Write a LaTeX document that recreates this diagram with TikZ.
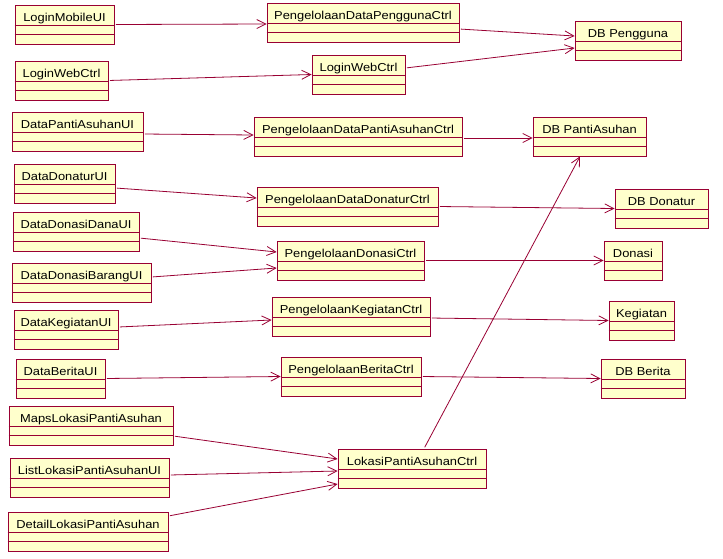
\documentclass[tikz,border=0pt]{standalone}
\usepackage{fontspec}
\newfontfamily\umlfont{Liberation Sans}[FakeStretch=1.12]
\usetikzlibrary{arrows.meta}
\definecolor{umlline}{RGB}{153,0,51}
\definecolor{umlfill}{RGB}{255,255,204}
\tikzset{
  umlbox/.style={draw=umlline, fill=umlfill, line width=0.8pt, rectangle, inner sep=0pt,
    text height=16.5pt, text depth=22.5pt, minimum height=39pt,
    font=\umlfont\fontsize{11.5}{13}\selectfont, text=black},
  dep/.style={draw=umlline, line width=0.8pt, shorten <=1.5pt,
    -{Straight Barb[length=9pt,width=9pt]}}
}
\begin{document}
\begin{tikzpicture}[x=1pt,y=-1pt]
\useasboundingbox[fill=white] (0,0) rectangle (723,558);
% left column
\node[umlbox, minimum width=99pt]  (lmui)   at (64.5,24.5)  {LoginMobileUI};
\node[umlbox, minimum width=93pt]  (lwc1)   at (61.5,80.5)  {LoginWebCtrl};
\node[umlbox, minimum width=131pt] (dpaui)  at (77.5,131.5) {DataPantiAsuhanUI};
\node[umlbox, minimum width=101pt] (ddui)   at (64.5,183.5) {DataDonaturUI};
\node[umlbox, minimum width=126pt] (ddsui)  at (76,231.5)   {DataDonasiDanaUI};
\node[umlbox, minimum width=139pt] (dbui)   at (81.5,282.5) {DataDonasiBarangUI};
\node[umlbox, minimum width=104pt] (dkui)   at (66,329.5)   {DataKegiatanUI};
\node[umlbox, minimum width=89pt]  (dbrui)  at (60.5,378.5) {DataBeritaUI};
\node[umlbox, minimum width=164pt] (maps)   at (91,425.5)   {MapsLokasiPantiAsuhan};
\node[umlbox, minimum width=159pt] (list)   at (89.5,477.5) {ListLokasiPantiAsuhanUI};
\node[umlbox, minimum width=160pt] (detail) at (88,531.5)   {DetailLokasiPantiAsuhan};
% middle column
\node[umlbox, minimum width=192pt] (pdpc)   at (363,22.5)   {PengelolaanDataPenggunaCtrl};
\node[umlbox, minimum width=93pt]  (lwc2)   at (358.5,74.5) {LoginWebCtrl};
\node[umlbox, minimum width=208pt] (pdpac)  at (358,136.5)  {PengelolaanDataPantiAsuhanCtrl};
\node[umlbox, minimum width=181pt] (pddc)   at (347.5,206.5){PengelolaanDataDonaturCtrl};
\node[umlbox, minimum width=147pt] (pdc)    at (350.5,260.5){PengelolaanDonasiCtrl};
\node[umlbox, minimum width=158pt] (pkc)    at (351,316.5)  {PengelolaanKegiatanCtrl};
\node[umlbox, minimum width=140pt] (pbc)    at (351,376.5)  {PengelolaanBeritaCtrl};
\node[umlbox, minimum width=148pt] (lpac)   at (412,468.5)  {LokasiPantiAsuhanCtrl};
% right column
\node[umlbox, minimum width=106pt] (dbp)    at (628,40.5)   {DB Pengguna};
\node[umlbox, minimum width=113pt] (dbpa)   at (589.5,136.5){DB PantiAsuhan};
\node[umlbox, minimum width=93pt]  (dbd)    at (661.5,208.5){DB Donatur};
\node[umlbox, minimum width=58pt]  (don)    at (633,260.5)  {Donasi};
\node[umlbox, minimum width=65pt]  (keg)    at (641.5,320.5){Kegiatan};
\node[umlbox, minimum width=84pt]  (dbb)    at (643,378.5)  {DB Berita};
% compartment lines
\foreach \n in {lmui,lwc1,dpaui,ddui,ddsui,dbui,dkui,dbrui,maps,list,detail,
               pdpc,lwc2,pdpac,pddc,pdc,pkc,pbc,lpac,dbp,dbpa,dbd,don,keg,dbb}{
  \draw[umlline, line width=0.8pt] ([yshift=-20.5pt]\n.north west) -- ([yshift=-20.5pt]\n.north east);
  \draw[umlline, line width=0.8pt] ([yshift=-30pt]\n.north west) -- ([yshift=-30pt]\n.north east);
}
% connectors
\draw[dep] (lmui.east) -- ([yshift=-1.5pt]pdpc.west);
\draw[dep] (lwc1.east) -- (lwc2.west);
\draw[dep] ([yshift=-2.5pt]dpaui.east) -- ([yshift=1.5pt]pdpac.west);
\draw[dep] ([yshift=-6.5pt]pdpc.east) -- ([yshift=4.5pt]dbp.west);
\draw[dep] ([yshift=6.5pt]lwc2.east) -- ([yshift=-7.5pt]dbp.west);
\draw[dep] ([yshift=-1.5pt]pdpac.east) -- ([yshift=-1.5pt]dbpa.west);
\draw[dep] ([yshift=-4.5pt]ddui.east) -- ([yshift=8.5pt]pddc.west);
\draw[dep] (pddc.east) -- (dbd.west);
\draw[dep] ([yshift=-6.5pt]ddsui.east) -- ([yshift=8.5pt]pdc.west);
\draw[dep] ([yshift=5.5pt]dbui.east) -- ([yshift=-7.5pt]pdc.west);
\draw[dep] (pdc.east) -- (don.west);
\draw[dep] ([yshift=2.5pt]dkui.east) -- ([yshift=-3.5pt]pkc.west);
\draw[dep] ([yshift=-1.5pt]pkc.east) -- (keg.west);
\draw[dep] (dbrui.east) -- (pbc.west);
\draw[dep] (pbc.east) -- (dbb.west);
\draw[dep] ([yshift=-10.5pt]maps.east) -- ([yshift=9.5pt]lpac.west);
\draw[dep] ([yshift=2.5pt]list.east) -- ([yshift=-2.5pt]lpac.west);
\draw[dep] ([yshift=15.5pt]detail.east) -- ([yshift=-15.5pt]lpac.west);
\draw[dep] ([xshift=12pt]lpac.north) -- ([xshift=-9.5pt]dbpa.south);
\end{tikzpicture}
\end{document}
